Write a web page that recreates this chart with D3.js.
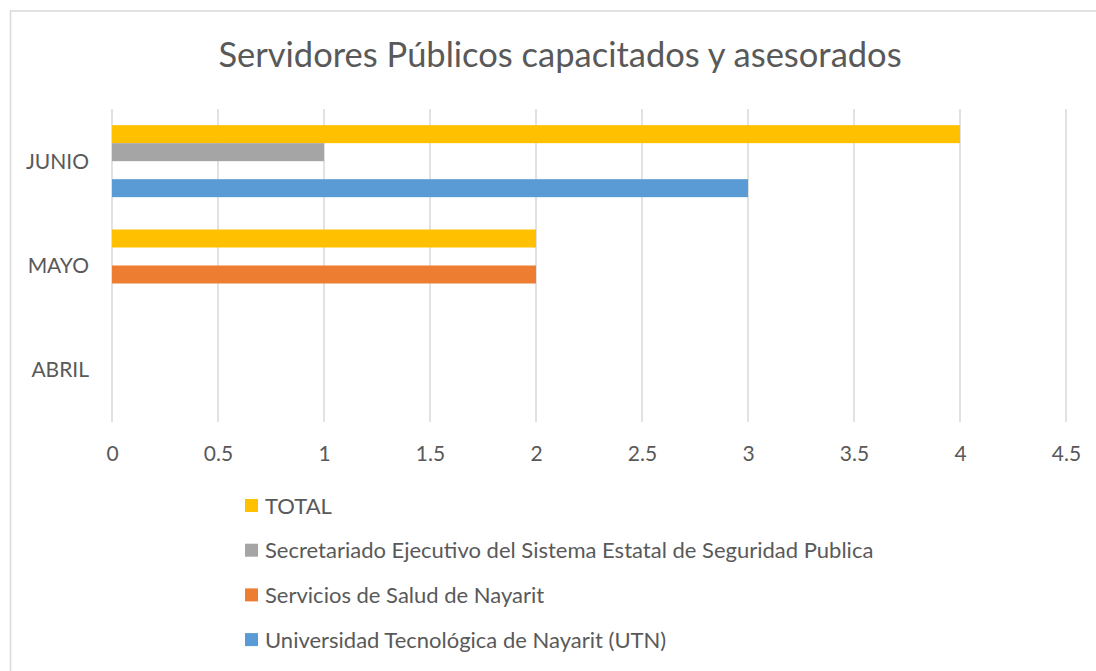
<!DOCTYPE html>
<html>
<head>
<meta charset="utf-8">
<script src="https://cdn.jsdelivr.net/npm/d3@7"></script>
<style>
  body { margin: 0; background: #fff; }
  svg { display: block; font-family: Lato, "Open Sans", sans-serif; }
</style>
</head>
<body>
<div id="main"></div>
<script>
// chart data
const months = ["JUNIO", "MAYO", "ABRIL"];
const seriesNames = [
  "TOTAL",
  "Secretariado Ejecutivo del Sistema Estatal de Seguridad Publica",
  "Servicios de Salud de Nayarit",
  "Universidad Tecnológica de Nayarit (UTN)"
];
const totalValues = [4, 2, 0];
const secretariadoValues = [1, 0, 0];
const saludValues = [0, 2, 0];
const utnValues = [3, 0, 0];
const xTicks = [0, 0.5, 1, 1.5, 2, 2.5, 3, 3.5, 4, 4.5];
const seriesColors = ["#FFC000", "#A5A5A5", "#ED7D31", "#5B9BD5"];

const allValues = [totalValues, secretariadoValues, saludValues, utnValues];

const width = 1096, height = 671;
const margin = { top: 109, bottom: 249, left: 112, right: 30 };
const textColor = "#595959";
const gridColor = "#D9D9D9";

const svg = d3.select("#main").append("svg")
  .attr("width", width)
  .attr("height", height);

// chart border (runs off the right and bottom of the picture)
svg.append("rect")
  .attr("x", 10.5).attr("y", 11)
  .attr("width", 1200).attr("height", 800)
  .attr("fill", "#fff")
  .attr("stroke", gridColor)
  .attr("stroke-width", 1.5);

svg.append("text")
  .attr("x", 560).attr("y", 67)
  .attr("text-anchor", "middle")
  .attr("fill", textColor)
  .style("font-size", "34.5px")
  .text("Servidores Públicos capacitados y asesorados");

const x = d3.scaleLinear()
  .domain([0, 4.5])
  .range([margin.left, width - margin.right]);

const y = d3.scaleBand()
  .domain(months)
  .range([margin.top, height - margin.bottom])
  .paddingInner(0.31)
  .paddingOuter(0.155);

const ySub = d3.scaleBand()
  .domain(seriesNames)
  .range([0, y.bandwidth()]);

// vertical gridlines
svg.append("g")
  .selectAll("line")
  .data(xTicks)
  .join("line")
  .attr("x1", d => x(d)).attr("x2", d => x(d))
  .attr("y1", margin.top).attr("y2", height - margin.bottom)
  .attr("stroke", gridColor)
  .attr("stroke-width", 1.5);

// bars
const rows = [];
months.forEach((m, i) => {
  seriesNames.forEach((s, j) => {
    rows.push({ month: m, series: s, value: allValues[j][i], color: seriesColors[j] });
  });
});

svg.append("g")
  .selectAll("rect")
  .data(rows.filter(d => d.value > 0))
  .join("rect")
  .attr("x", x(0))
  .attr("y", d => y(d.month) + ySub(d.series))
  .attr("width", d => x(d.value) - x(0))
  .attr("height", ySub.bandwidth())
  .attr("fill", d => d.color);

// x axis labels
const xAxis = svg.append("g")
  .attr("transform", `translate(0, ${height - margin.bottom})`)
  .call(d3.axisBottom(x).tickValues(xTicks).tickSize(0).tickPadding(0).tickFormat(d3.format("")));
xAxis.select(".domain").remove();
xAxis.selectAll("text")
  .attr("dy", null)
  .attr("y", 39)
  .attr("fill", textColor)
  .style("font-size", "21px")
  .style("font-family", "Lato, 'Open Sans', sans-serif");

// y axis labels
const yAxis = svg.append("g")
  .attr("transform", `translate(${89}, 0)`)
  .call(d3.axisLeft(y).tickSize(0).tickPadding(0));
yAxis.select(".domain").remove();
yAxis.selectAll("text")
  .attr("dy", "0.35em")
  .attr("fill", textColor)
  .style("font-size", "21px")
  .style("font-family", "Lato, 'Open Sans', sans-serif");

// legend
const legend = svg.append("g")
  .selectAll("g")
  .data(seriesNames)
  .join("g")
  .attr("transform", (d, i) => `translate(245, ${506 + i * 44.7})`);

legend.append("rect")
  .attr("x", 0).attr("y", -7)
  .attr("width", 13).attr("height", 13)
  .attr("fill", (d, i) => seriesColors[i]);

legend.append("text")
  .attr("x", 20).attr("y", 0)
  .attr("dy", "0.35em")
  .attr("fill", textColor)
  .style("font-size", "22px")
  .text(d => d);
</script>
</body>
</html>
